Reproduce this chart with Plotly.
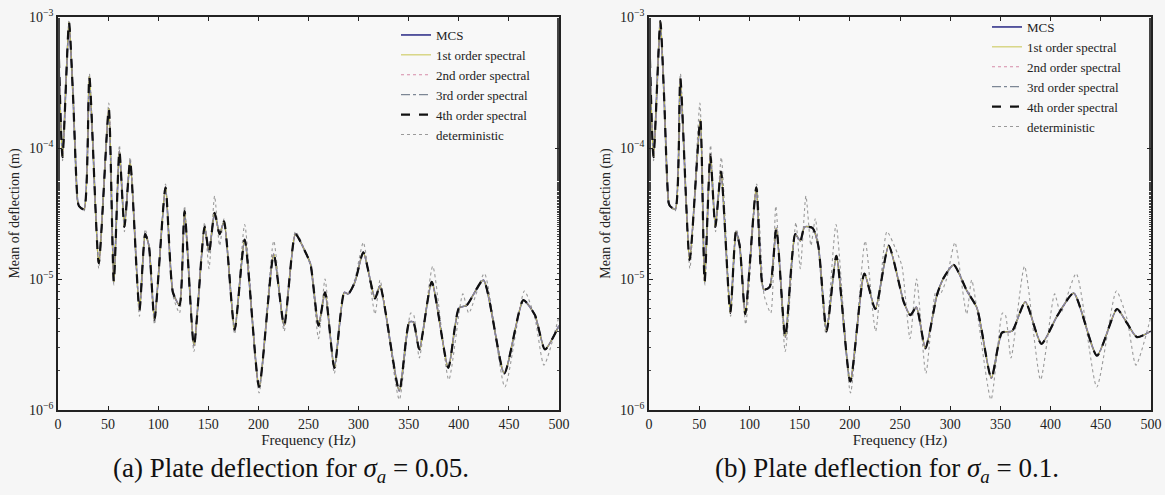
import plotly.graph_objects as go

# ---------------- data ----------------
freq_a = [0, 4.5, 11, 15, 19.5, 21, 26, 31.3, 40.7, 50.7, 55.7, 61.3, 66.3, 72, 81.3, 87, 90.7,
          96.3, 107.3, 114.7, 121.3, 126.3, 135.7, 146.3, 150.7, 156.3, 161.3, 165.7, 176.3,
          186.3, 200.7, 215.3, 225.7, 237, 247, 252, 260, 266.5, 275.8, 285.7, 289.7, 296.4,
          304.7, 316.4, 321.4, 340.6, 350.6, 354.6, 360.6, 373, 389.5, 400.2, 407.9, 424.5,
          445.4, 464.4, 476, 486, 500]
mcs_a = [9.0e-4, 8.5e-5, 9.1e-4, 2.5e-4, 4.0e-5, 3.6e-5, 3.4e-5, 3.5e-4, 1.32e-5, 2.0e-4, 9.5e-6,
         9.5e-5, 2.5e-5, 7.9e-5, 5.8e-6, 2.2e-5, 1.8e-5, 4.9e-6, 5.0e-5, 7.9e-6, 6.3e-6, 3.3e-5,
         3.1e-6, 2.5e-5, 1.6e-5, 3.2e-5, 2.2e-5, 2.75e-5, 4.1e-6, 2.0e-5, 1.5e-6, 1.55e-5, 4.4e-6,
         2.2e-5, 1.6e-5, 1.3e-5, 4.4e-6, 7.9e-6, 2.1e-6, 7.9e-6, 7.7e-6, 9.5e-6, 1.6e-5, 7.1e-6,
         8.9e-6, 1.4e-6, 4.7e-6, 4.7e-6, 2.9e-6, 9.5e-6, 2.1e-6, 6.0e-6, 6.3e-6, 9.8e-6, 1.9e-6,
         6.9e-6, 5.3e-6, 2.9e-6, 4.4e-6]

freq_b = [0, 4.5, 11.3, 15, 19.6, 21, 26.2, 31.2, 40.5, 51.1, 55.4, 61.1, 66.1, 71.7, 81, 86.6,
          90.3, 95.9, 106.9, 114.2, 120.2, 126.8, 135.8, 145.7, 150.7, 155, 163, 168.6, 176.9,
          186.6, 200.5, 214.5, 225.4, 238.7, 253.7, 260.3, 266.3, 275.3, 286.9, 293.5, 303.5,
          316.7, 326.7, 341, 351.6, 361.6, 374.8, 390.8, 406.4, 423, 446.2, 466.1, 476.1, 486, 500]
mcs_b = [9.0e-4, 8.5e-5, 9.3e-4, 2.5e-4, 3.8e-5, 3.6e-5, 3.4e-5, 3.4e-4, 1.4e-5, 1.65e-4, 9.5e-6,
         8.9e-5, 2.5e-5, 6.6e-5, 5.5e-6, 2.3e-5, 1.8e-5, 5.4e-6, 5.0e-5, 8.3e-6, 8.7e-6, 2.45e-5,
         3.6e-6, 2.2e-5, 1.95e-5, 2.5e-5, 2.45e-5, 1.8e-5, 4.0e-6, 1.5e-5, 1.65e-6, 1.1e-5, 5.9e-6,
         1.8e-5, 6.7e-6, 5.3e-6, 6.1e-6, 2.95e-6, 7.6e-6, 1.02e-5, 1.28e-5, 8.1e-6, 6.0e-6, 1.75e-6,
         3.9e-6, 4.0e-6, 6.7e-6, 3.2e-6, 5.2e-6, 7.8e-6, 2.6e-6, 5.9e-6, 4.6e-6, 3.6e-6, 4.0e-6]

freq_det = [0, 4.5, 11, 15, 19.5, 21, 26, 31.3, 40.7, 50.7, 55.7, 61.3, 66.3, 72, 81.3, 87, 90.7,
            96.3, 107.3, 114.7, 121.3, 126.3, 135.7, 146.3, 150.7, 156.3, 161.3, 165.7, 176.3,
            186.3, 200.7, 215.3, 225.7, 237, 247, 252, 260, 266.5, 275.8, 285.7, 289.7, 296.4,
            304.7, 316.4, 321.4, 340.6, 352, 355, 360.6, 374, 390, 404, 410, 425.5, 446, 465.5,
            476, 485, 500]
det = [9.2e-4, 8.0e-5, 9.5e-4, 2.6e-4, 3.9e-5, 3.6e-5, 3.3e-5, 3.7e-4, 1.2e-5, 2.2e-4, 9.0e-6,
       1.05e-4, 2.3e-5, 8.5e-5, 5.2e-6, 2.4e-5, 1.8e-5, 4.5e-6, 5.3e-5, 7.5e-6, 5.5e-6, 3.6e-5,
       2.8e-6, 2.7e-5, 1.2e-5, 4.3e-5, 1.8e-5, 2.9e-5, 3.8e-6, 2.6e-5, 1.35e-6, 1.95e-5, 4.0e-6,
       2.3e-5, 1.6e-5, 1.25e-5, 3.5e-6, 1.0e-5, 1.9e-6, 8.0e-6, 7.6e-6, 1.0e-5, 1.9e-5, 5.4e-6,
       9.8e-6, 1.2e-6, 5.5e-6, 5.3e-6, 2.5e-6, 1.25e-5, 1.7e-6, 7.7e-6, 5.5e-6, 1.1e-5, 1.5e-6,
       8.1e-6, 5.0e-6, 2.2e-6, 5.2e-6]

x_ticks = [0, 50, 100, 150, 200, 250, 300, 350, 400, 450, 500]
y_ticks = [1e-6, 1e-5, 1e-4, 1e-3]
y_ticktext = ["10<sup>−6</sup>", "10<sup>−5</sup>", "10<sup>−4</sup>", "10<sup>−3</sup>"]
series_names = ["MCS", "1st order spectral", "2nd order spectral", "3rd order spectral",
                "4th order spectral", "deterministic"]
captions = ["(a) Plate deflection for <i>σ<sub>a</sub></i> = 0.05.",
            "(b) Plate deflection for <i>σ<sub>a</sub></i> = 0.1."]

# ---------------- styling ----------------
FONT = "Liberation Serif"
W, H = 1165, 495
styles = {
    "MCS": dict(color="#35358c", width=1.6, dash="solid"),
    "1st order spectral": dict(color="#c9c64f", width=1.0, dash="solid"),
    "2nd order spectral": dict(color="#d58aa8", width=1.2, dash="dot"),
    "3rd order spectral": dict(color="#7d8795", width=1.3, dash="dashdot"),
    "4th order spectral": dict(color="#111111", width=2.2, dash="dash"),
    "deterministic": dict(color="#9a9a9a", width=1.1, dash="dot"),
}

fig = go.Figure()

panels = [("x", "y", "legend", freq_a, mcs_a), ("x2", "y2", "legend2", freq_b, mcs_b)]
for xa, ya, lg, fr, mcs in panels:
    # deterministic drawn first (underneath), listed last in the legend
    fig.add_trace(go.Scatter(x=freq_det, y=det, mode="lines", name="deterministic",
                             line=dict(**styles["deterministic"], shape="spline", smoothing=0.6),
                             xaxis=xa, yaxis=ya, legend=lg, legendrank=6))
    for rank, nm in enumerate(series_names[:5], start=1):
        fig.add_trace(go.Scatter(x=fr, y=mcs, mode="lines", name=nm,
                                 line=dict(**styles[nm], shape="spline", smoothing=0.6),
                                 xaxis=xa, yaxis=ya, legend=lg, legendrank=rank))

def xaxis_cfg(domain, anchor):
    return dict(domain=domain, anchor=anchor, range=[0, 500], tickvals=x_ticks,
                ticks="inside", ticklen=4, tickwidth=1, tickcolor="#222",
                showline=True, linecolor="#222", linewidth=1.5, mirror="ticks",
                showgrid=False, zeroline=False,
                tickfont=dict(family=FONT, size=14, color="#222"),
                title=dict(text="Frequency (Hz)", font=dict(family=FONT, size=15, color="#222"),
                           standoff=1),
                automargin=False)

def yaxis_cfg(domain, anchor):
    return dict(domain=domain, anchor=anchor, type="log", range=[-6, -3],
                tickvals=y_ticks, ticktext=y_ticktext,
                ticks="inside", ticklen=4, tickwidth=1, tickcolor="#222",
                minor=dict(ticks="inside", ticklen=2, tickcolor="#444", showgrid=False),
                showline=True, linecolor="#222", linewidth=1.5, mirror="ticks",
                showgrid=False, zeroline=False,
                tickfont=dict(family=FONT, size=14, color="#222"),
                title=dict(text="Mean of deflection (m)",
                           font=dict(family=FONT, size=14, color="#222"), standoff=6),
                automargin=False)

ydom = [1 - 410 / H, 1 - 17 / H]
legend_font = dict(family=FONT, size=13, color="#222")
fig.update_layout(
    width=W, height=H,
    margin=dict(l=0, r=0, t=0, b=0),
    paper_bgcolor="#f6f6f6", plot_bgcolor="#f8f8f8",
    xaxis=xaxis_cfg([58 / W, 559 / W], "y"),
    yaxis=yaxis_cfg(ydom, "x"),
    xaxis2=xaxis_cfg([649 / W, 1151 / W], "y2"),
    yaxis2=yaxis_cfg(ydom, "x2"),
    legend=dict(x=396 / W, y=1 - 20 / H, xanchor="left", yanchor="top",
                bgcolor="rgba(0,0,0,0)", font=legend_font,
                tracegroupgap=0, itemwidth=30),
    legend2=dict(x=987 / W, y=1 - 12 / H, xanchor="left", yanchor="top",
                 bgcolor="rgba(0,0,0,0)", font=legend_font,
                 tracegroupgap=0, itemwidth=30),
    showlegend=True,
)

caption_x = [291, 887]
for cx, text in zip(caption_x, captions):
    fig.add_annotation(text=text, x=cx / W, y=1 - 470 / H, xref="paper", yref="paper",
                       showarrow=False, xanchor="center", yanchor="middle",
                       font=dict(family=FONT, size=27, color="#111"))

fig.write_html("out.html")
